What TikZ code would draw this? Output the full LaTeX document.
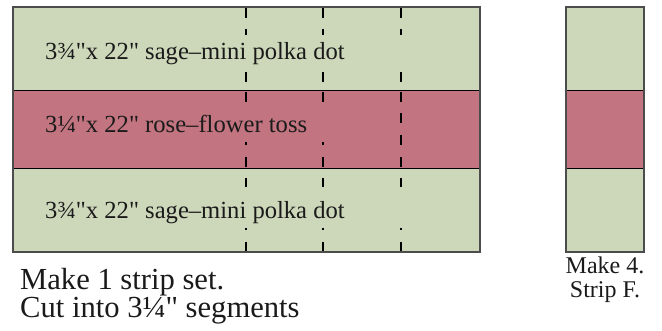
\documentclass[tikz,border=0pt]{standalone}
\usepackage{fontspec}
\setmainfont{Liberation Serif}[Ligatures=TeXOff]
\definecolor{sage}{HTML}{CDD7BA}
\definecolor{rose}{HTML}{C27580}
\definecolor{ink}{HTML}{1A1A1A}
\tikzset{
  cutline/.style={line width=2pt, black},
  rowline/.style={line width=0.9pt, black},
  frame/.style={line width=1.3pt, draw=black!70},
  striptext/.style={anchor=base west, inner sep=0pt, text=ink, font=\fontsize{24.6}{28}\selectfont},
  bigtext/.style={anchor=base west, inner sep=0pt, text=ink, font=\fontsize{30.6}{34}\selectfont},
  smalltext/.style={anchor=base, inner sep=0pt, text=ink, font=\fontsize{24}{28}\selectfont}
}
\begin{document}
\begin{tikzpicture}[x=1pt,y=-1pt]
\useasboundingbox (0,0) rectangle (662,331);
% main strip set
\fill[sage] (13,7) rectangle (480,90);
\fill[rose] (13,90) rectangle (480,168);
\fill[sage] (13,168) rectangle (480,252);
% cut lines
\foreach \x in {246,323}{
  \foreach \a/\b in {7/18,29/35,72/82,92/102,142.5/145,157/167,178/187,228/230.5,242/252}
    \draw[cutline] (\x,\a) -- (\x,\b);
}
\foreach \a/\b in {7/18,29/35,72/82,92/102,113/123,135/145,157/167,178/187,228/230.5,242/252}
  \draw[cutline] (401,\a) -- (401,\b);
\draw[rowline] (13,90) -- (480,90);
\draw[rowline] (13,168) -- (480,168);
\draw[frame] (13,7) rectangle (480,252);
% segment
\fill[sage] (566,7) rectangle (644,90);
\fill[rose] (566,90) rectangle (644,168);
\fill[sage] (566,168) rectangle (644,252);
\draw[rowline] (566,90) -- (644,90);
\draw[rowline] (566,168) -- (644,168);
\draw[frame] (566,7) rectangle (644,252);
% labels
\node[striptext] (t1) at (45,60) {3¾"x 22" sage–mini polka dot};
\node[striptext] (t2) at (45,132.5) {3¼"x 22" rose–flower toss};
\node[striptext] (t3) at (45,218.5) {3¾"x 22" sage–mini polka dot};
\node[bigtext] (m1) at (20,290) {Make 1 strip set.};
\node[bigtext] (m2) at (20,318) {Cut into 3¼" segments};
\node[smalltext] (r1) at (605,274) {Make 4.};
\node[smalltext] (r2) at (605,298) {Strip F.};
\end{tikzpicture}
\end{document}
